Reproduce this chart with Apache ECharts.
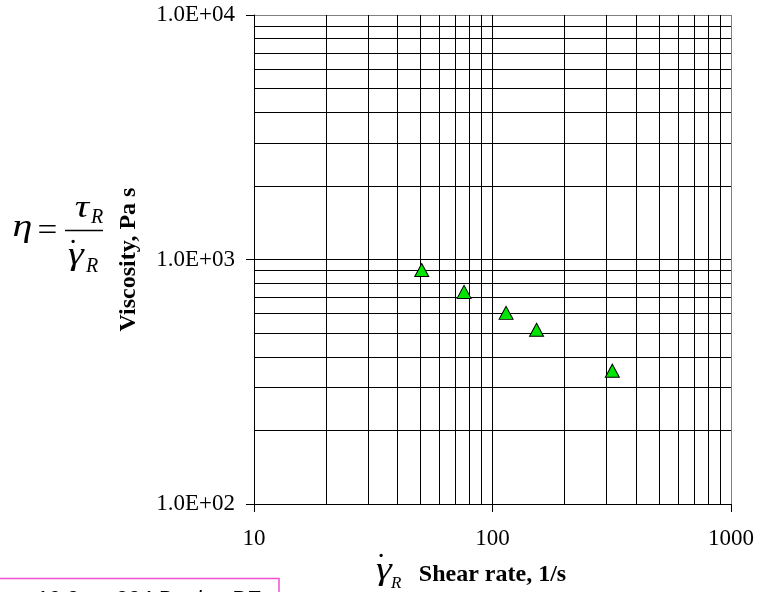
<!DOCTYPE html>
<html>
<head>
<meta charset="utf-8">
<script src="https://cdn.jsdelivr.net/npm/echarts@6/dist/echarts.min.js"></script>
<style>
  html, body { margin: 0; padding: 0; background: #fff; }
  #chart { width: 757px; height: 592px; }
</style>
</head>
<body>
<div id="chart"></div>
<script>
// Measured apparent viscosity vs. apparent shear rate
const shearRate = [50.5, 76, 114, 153, 318];      // 1/s
const viscosity = [906, 737, 605, 516, 351];      // Pa s

// Axis ranges and tick labels
const xRange = [10, 1000];
const yRange = [100, 10000];
const xTickLabels = ['10', '100', '1000'];
const yTickLabels = ['1.0E+02', '1.0E+03', '1.0E+04'];

// Minor grid positions (2..9 within each decade)
const xMinorGrid = [20, 30, 40, 50, 60, 70, 80, 90, 200, 300, 400, 500, 600, 700, 800, 900];
const yMinorGrid = [200, 300, 400, 500, 600, 700, 800, 900, 2000, 3000, 4000, 5000, 6000, 7000, 8000, 9000];

const SERIF = '"Liberation Serif", "Times New Roman", serif';
const GREEK = 'italic 32px ' + SERIF;

const gridSegments = []
  .concat(xMinorGrid.map(x => ({ coords: [[x, yRange[0]], [x, yRange[1]]] })))
  .concat(yMinorGrid.map(y => ({ coords: [[xRange[0], y], [xRange[1], y]] })));

function txt(x, y, text, font, align, extra) {
  return Object.assign({
    type: 'text', x: x, y: y,
    style: { text: text, font: font, fill: '#000', align: align || 'center', verticalAlign: 'middle' }
  }, extra || {});
}

const chart = echarts.init(document.getElementById('chart'), null, { renderer: 'canvas' });

chart.setOption({
  animation: false,
  backgroundColor: '#fff',
  grid: { left: 254, right: 25, top: 15, bottom: 86, containLabel: false },
  xAxis: {
    type: 'log',
    logBase: 10,
    min: xRange[0],
    max: xRange[1],
    name: 'Shear rate, 1/s',
    nameLocation: 'middle',
    nameGap: 59,
    nameTextStyle: { fontFamily: SERIF, fontWeight: 'bold', fontSize: 24, color: '#000' },
    axisLine: { show: true, lineStyle: { color: '#000', width: 1 } },
    axisTick: { show: true, length: 8, inside: false, lineStyle: { color: '#000' } },
    axisLabel: {
      margin: 23,
      fontFamily: SERIF, fontSize: 23, color: '#000',
      showMinLabel: true, showMaxLabel: true,
      formatter: (v, i) => xTickLabels[i]
    },
    splitLine: { show: true, lineStyle: { color: ['#000', '#000', '#808080'], width: 1 } },
    minorTick: { show: false },
    minorSplitLine: { show: false }
  },
  yAxis: {
    type: 'log',
    logBase: 10,
    min: yRange[0],
    max: yRange[1],
    name: 'Viscosity, Pa s',
    nameLocation: 'middle',
    nameGap: 113,
    nameTextStyle: { fontFamily: SERIF, fontWeight: 'bold', fontSize: 24, color: '#000' },
    axisLine: { show: true, lineStyle: { color: '#000', width: 1 } },
    axisTick: { show: true, length: 8, inside: false, lineStyle: { color: '#000' } },
    axisLabel: {
      margin: 19,
      fontFamily: SERIF, fontSize: 23, color: '#000',
      showMinLabel: true, showMaxLabel: true,
      formatter: (v, i) => yTickLabels[i]
    },
    splitLine: { show: true, lineStyle: { color: ['#000', '#000', '#808080'], width: 1 } },
    minorTick: { show: false },
    minorSplitLine: { show: false }
  },
  series: [
    {
      name: 'minor grid',
      type: 'lines',
      coordinateSystem: 'cartesian2d',
      silent: true,
      z: 1,
      lineStyle: { color: '#000', width: 1, opacity: 1, curveness: 0 },
      data: gridSegments
    },
    {
      name: 'viscosity',
      type: 'scatter',
      z: 5,
      symbol: 'triangle',
      symbolSize: [14, 13],
      itemStyle: { color: '#00e600', borderColor: '#000', borderWidth: 1, opacity: 1 },
      data: shearRate.map((x, i) => [x, viscosity[i]])
    }
  ],
  graphic: [
    // eta = tau_R / gamma-dot_R
    txt(22.5, 228, 'η', GREEK, 'center', { scaleX: 1.25 }),
    txt(47.5, 232, '=', '32px ' + SERIF, 'center', { scaleX: 1.1 }),
    txt(82, 209, 'τ', GREEK, 'center', { scaleX: 1.25 }),
    txt(91, 218, 'R', 'italic 20px ' + SERIF, 'left'),
    { type: 'line', shape: { x1: 65, y1: 230.5, x2: 103, y2: 230.5 }, style: { stroke: '#000', lineWidth: 1.5 } },
    txt(76, 256, 'γ', GREEK, 'center', { scaleX: 1.25 }),
    txt(73, 253, '˙', '32px ' + SERIF, 'center'),
    txt(86, 267, 'R', 'italic 20px ' + SERIF, 'left'),
    // gamma-dot_R beside the x-axis title
    txt(384, 571, 'γ', GREEK, 'center', { scaleX: 1.25 }),
    txt(381, 567, '˙', '32px ' + SERIF, 'center'),
    txt(391, 584, 'R', 'italic 17px ' + SERIF, 'left'),
    // source note box
    { type: 'rect', shape: { x: -2, y: 578.5, width: 281, height: 40 }, style: { fill: '#fff', stroke: '#f050d0', lineWidth: 1.5 } },
    { type: 'text', x: 35, y: 589, style: { text: '10.3 on 334 Bagley PE', font: 'italic 22px "Liberation Sans", Arial, sans-serif', fill: '#000', align: 'left', verticalAlign: 'top' } }
  ]
});
</script>
</body>
</html>
